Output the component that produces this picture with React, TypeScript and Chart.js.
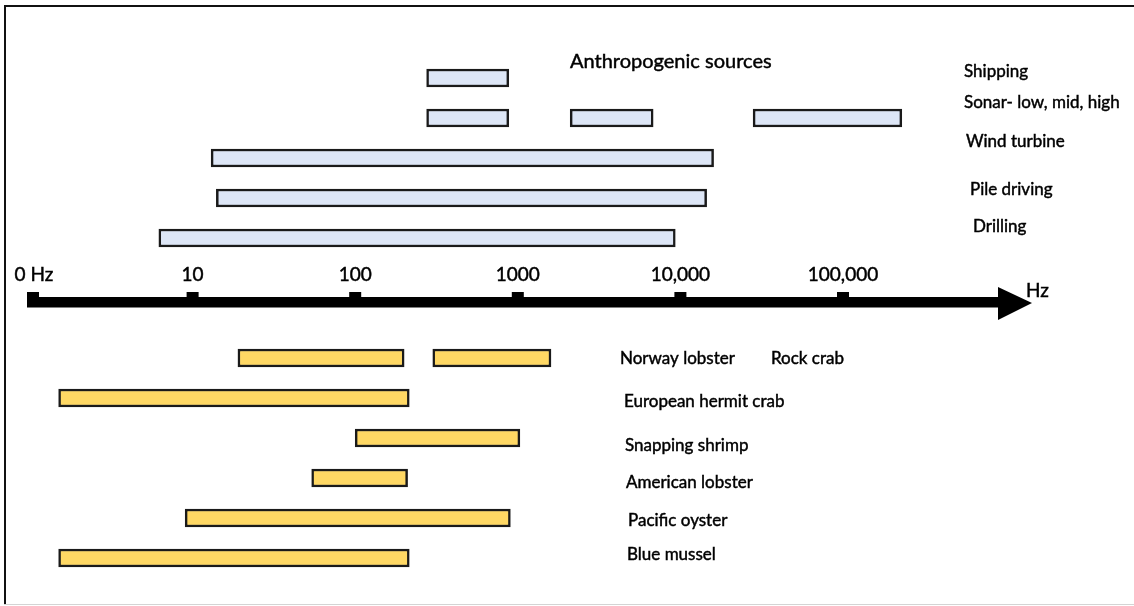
import { useEffect, useRef } from 'react';
import { Chart, registerables } from 'chart.js';

Chart.register(...registerables);

// ---------------- data ----------------
const anthropogenicSources = ['Shipping', 'Sonar- low, mid, high', 'Wind turbine', 'Pile driving', 'Drilling'];
const anthropogenicLow = [275, 275, 13, 14, 6.2];
const anthropogenicHigh = [880, 880, 16000, 14500, 9300];
// extra sonar bands (mid, high) on the sonar row
const sonarExtraLow = [2100, 28000];
const sonarExtraHigh = [6800, 230000];

const species = ['Norway lobster', 'European hermit crab', 'Snapping shrimp', 'American lobster', 'Pacific oyster', 'Blue mussel'];
const speciesLow = [19, 1.5, 100, 54, 9, 1.5];
const speciesHigh = [200, 215, 1030, 210, 900, 215];
// second band on the Norway lobster row
const rockCrabLabel = 'Rock crab';
const rockCrabRange = [300, 1600];

const tickValues = [1, 10, 100, 1000, 10000, 100000];
const tickLabels = ['0 Hz', '10', '100', '1000', '10,000', '100,000'];
const axisUnit = 'Hz';
const titleText = 'Anthropogenic sources';

// ---------------- helpers ----------------
const FONT = 'Lato, "Open Sans", "DejaVu Sans", sans-serif';
const BLUE = '#dde6f6';
const YELLOW = '#ffd864';
const EDGE = '#1a1a1a';

const gapRows = [' ', '  '];
const rowLabels = [...anthropogenicSources, ...gapRows, ...species];
const nTop = anthropogenicSources.length;
const firstSpecies = nTop + gapRows.length;

const mainData = rowLabels.map((_, i) => {
  if (i < nTop) return [anthropogenicLow[i], anthropogenicHigh[i]];
  if (i >= firstSpecies) {
    const k = i - firstSpecies;
    return [speciesLow[k], speciesHigh[k]];
  }
  return null;
});
const mainColors = rowLabels.map((_, i) => (i < nTop ? BLUE : YELLOW));

const sonarRow = 1;
const extraDatasets = sonarExtraLow.map((lo, j) => ({
  label: 'sonar' + j,
  data: rowLabels.map((_, i) => (i === sonarRow ? [lo, sonarExtraHigh[j]] : null)),
  backgroundColor: BLUE,
}));
const rockDataset = {
  label: rockCrabLabel,
  data: rowLabels.map((_, i) => (i === firstSpecies ? rockCrabRange : null)),
  backgroundColor: YELLOW,
};

// label layout (annotation text positions)
const topLabelX = [964, 964, 966, 970, 973];
const topLabelY = [72, 103, 142, 190, 227];
const speciesLabelX = [620, 624, 625, 626, 628, 627];
const speciesLabelY = [359, 402, 446, 483, 521, 555];
const rockLabelX = 771;

function heavyText(ctx: CanvasRenderingContext2D, s: string, x: number, y: number) {
  ctx.fillText(s, x, y);
  ctx.strokeText(s, x, y);
}

const diagramPlugin = {
  id: 'diagram',
  beforeDraw(chart: any) {
    const { ctx, width } = chart;
    ctx.save();
    ctx.fillStyle = '#ffffff';
    ctx.fillRect(0, 0, chart.width, chart.height);
    ctx.fillStyle = '#111111';
    ctx.fillRect(4, 5, 2, 600);
    ctx.fillRect(4, 5, width - 4, 2);
    ctx.fillStyle = '#d4d4d4';
    ctx.fillRect(4, 604, width - 4, 1);
    ctx.restore();
  },
  afterDatasetsDraw(chart: any) {
    const { ctx } = chart;
    const xs = chart.scales.x;
    ctx.save();
    ctx.fillStyle = '#000000';
    ctx.strokeStyle = '#000000';
    ctx.lineWidth = 0.45;
    // axis line with arrow
    const lineTop = 297;
    const lineH = 10.5;
    const x0 = xs.getPixelForValue(tickValues[0]) - 3;
    const arrowBase = 998;
    const arrowTip = 1032;
    ctx.fillRect(x0, lineTop, arrowBase - x0 + 1, lineH);
    ctx.beginPath();
    ctx.moveTo(arrowBase, 287);
    ctx.lineTo(arrowTip, 303);
    ctx.lineTo(arrowBase, 320);
    ctx.closePath();
    ctx.fill();
    // ticks + labels
    ctx.font = '19px ' + FONT;
    ctx.textAlign = 'center';
    ctx.textBaseline = 'alphabetic';
    tickValues.forEach((v, i) => {
      const px = xs.getPixelForValue(v);
      const cx = i === 0 ? px + 3 : px;
      ctx.fillRect(cx - 6, 292, 12, 7);
      heavyText(ctx, tickLabels[i], i === 0 ? px + 4 : px, 281);
    });
    ctx.textAlign = 'left';
    heavyText(ctx, axisUnit, 1026, 297);

    // title
    ctx.font = '20px ' + FONT;
    heavyText(ctx, titleText, 570, 68);

    // row labels
    ctx.font = '17px ' + FONT;
    ctx.textBaseline = 'middle';
    anthropogenicSources.forEach((s, i) => heavyText(ctx, s, topLabelX[i], topLabelY[i]));
    species.forEach((s, i) => heavyText(ctx, s, speciesLabelX[i], speciesLabelY[i]));
    heavyText(ctx, rockCrabLabel, rockLabelX, speciesLabelY[0]);
    ctx.restore();
  },
};

export default function App() {
  const ref = useRef<HTMLCanvasElement | null>(null);
  useEffect(() => {
    if (!ref.current) return;
    const chart = new Chart(ref.current, {
      type: 'bar',
      data: {
        labels: rowLabels,
        datasets: [
          { label: 'ranges', data: mainData as any, backgroundColor: mainColors },
          ...(extraDatasets as any),
          rockDataset as any,
        ],
      },
      options: {
        indexAxis: 'y',
        responsive: false,
        animation: false,
        layout: { padding: { left: 30, right: 1134 - 843, top: 58, bottom: 606 - 578 } },
        datasets: {
          bar: {
            grouped: false,
            barThickness: 18,
            borderWidth: 2.5,
            borderColor: EDGE,
            borderSkipped: false,
            clip: false as any,
          },
        },
        scales: {
          x: { type: 'logarithmic', min: 1, max: 100000, display: false },
          y: { type: 'category', display: false, grid: { display: false } },
        },
        plugins: {
          legend: { display: false },
          tooltip: { enabled: false },
          title: { display: false },
        },
      },
      plugins: [diagramPlugin],
    });
    return () => chart.destroy();
  }, []);
  return (
    <div style={{ position: 'fixed', left: 0, top: 0, width: 1134, height: 606, background: '#fff' }}>
      <canvas ref={ref} width={1134} height={606} style={{ display: 'block' }} />
    </div>
  );
}
